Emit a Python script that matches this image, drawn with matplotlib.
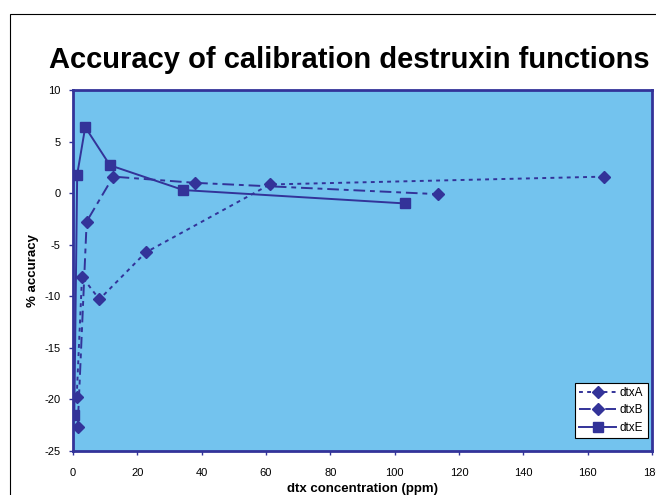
import matplotlib
matplotlib.use('Agg')
import matplotlib.pyplot as plt
from matplotlib.patches import Rectangle

plt.rcParams['font.family'] = ['Liberation Sans', 'DejaVu Sans']
plt.rcParams['axes.unicode_minus'] = False

# calibration data: concentration (ppm) vs % accuracy
dtxA_x = [1.15, 2.8, 8.2, 22.6, 61.2, 165.0]
dtxA_y = [-19.75, -8.1, -10.3, -5.75, 0.84, 1.6]
dtxB_x = [1.45, 4.25, 12.5, 37.9, 113.6]
dtxB_y = [-22.7, -2.75, 1.6, 1.0, -0.1]
dtxE_x = [0.4, 1.3, 3.8, 11.5, 34.3, 103.3]
dtxE_y = [-21.5, 1.8, 6.4, 2.7, 0.3, -1.0]

navy = '#333399'
fill = '#73C3EE'

W, H = 656, 495
fig = plt.figure(figsize=(W / 100, H / 100), dpi=100)
fig.patch.set_facecolor('white')

# chart frame (only left and top edges are inside the image)
fig.add_artist(Rectangle((10 / W, -0.1), 1.2, (H - 14) / H + 0.1, transform=fig.transFigure,
                         fill=False, edgecolor='black', linewidth=0.8))

ax = fig.add_axes([73 / W, 1 - 451 / H, (652 - 73) / W, (451 - 90) / H])
ax.set_facecolor(fill)
for s in ax.spines.values():
    s.set_color(navy)
    s.set_linewidth(2.0)

ax.plot(dtxA_x, dtxA_y, color=navy, lw=1.4, ls=(0, (2, 2.2)), marker='D', ms=6,
        mfc=navy, mec=navy, label='dtxA')
ax.plot(dtxB_x, dtxB_y, color=navy, lw=1.4, ls=(0, (6, 2.5, 2.5, 2.5)), marker='D', ms=6,
        mfc=navy, mec=navy, label='dtxB')
ax.plot(dtxE_x, dtxE_y, color=navy, lw=1.4, ls='-', marker='s', ms=7.5,
        mfc=navy, mec=navy, label='dtxE')

ax.set_xlim(0, 180)
ax.set_ylim(-25, 10)
ax.set_xticks(range(0, 181, 20))
ax.set_yticks(range(-25, 11, 5))
ax.tick_params(direction='out', length=3, width=1, color=navy, labelsize=8)
ax.tick_params(axis='x', pad=9)
ax.tick_params(axis='y', pad=6)

ax.set_xlabel('dtx concentration (ppm)', fontsize=9.5, fontweight='bold', labelpad=4)
ax.set_ylabel('% accuracy', fontsize=9.5, fontweight='bold', labelpad=4)

fig.text(349 / W, 1 - 60 / H, 'Accuracy of calibration destruxin functions',
         ha='center', va='center', fontsize=21, fontweight='bold')

leg = ax.legend(loc='lower right', bbox_to_anchor=(0.9965, 0.03), fontsize=8.5, frameon=True,
                fancybox=False, edgecolor='black', framealpha=1, borderpad=0.35,
                labelspacing=0.45, handlelength=3.2, handletextpad=0.3, borderaxespad=0.2)
leg.get_frame().set_linewidth(0.8)

fig.savefig('out.png', dpi=100)
